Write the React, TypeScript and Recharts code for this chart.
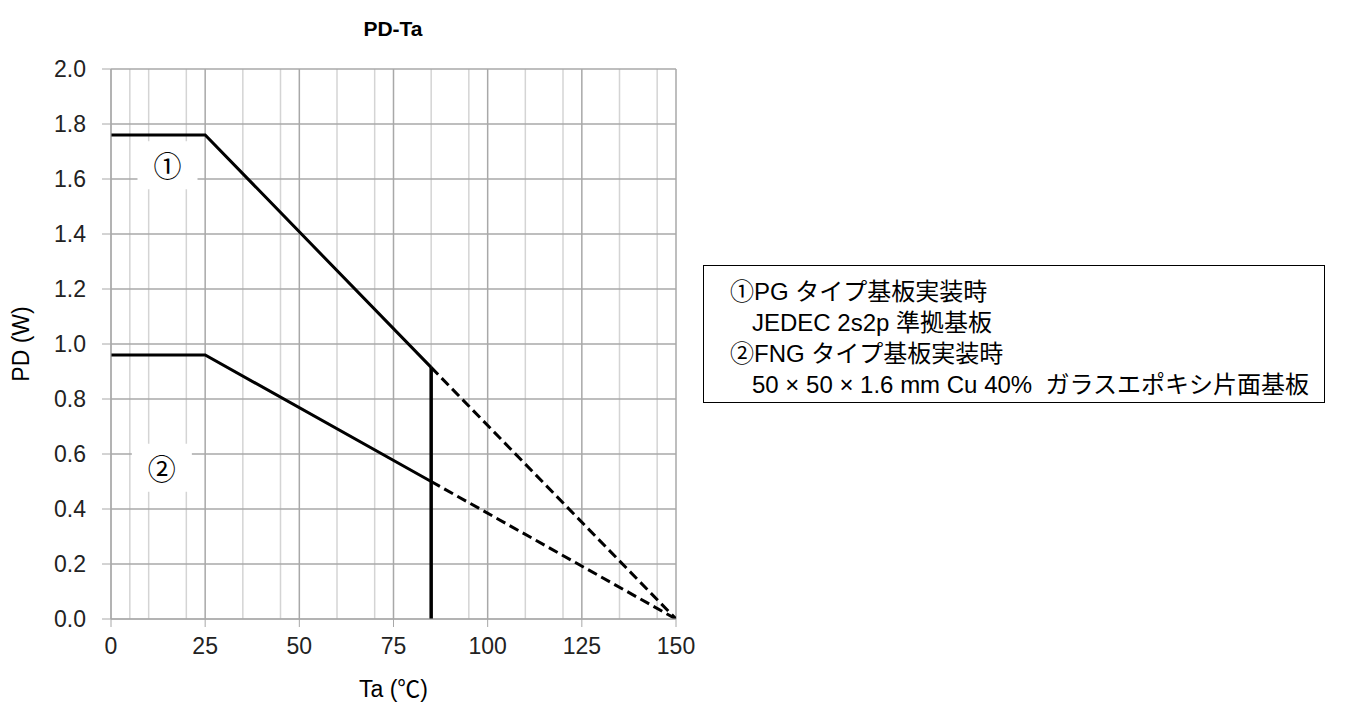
import React from 'react';
import { LineChart, Line, XAxis, YAxis, CartesianGrid, ReferenceDot } from 'recharts';

// PD-Ta derating curves
const xTicks = [0, 25, 50, 75, 100, 125, 150];
const xMinor = [5, 10, 15, 20, 30, 35, 40, 45, 55, 60, 65, 70, 80, 85, 90, 95, 105, 110, 115, 120, 130, 135, 140, 145];
const yTicks = [0, 0.2, 0.4, 0.6, 0.8, 1.0, 1.2, 1.4, 1.6, 1.8, 2.0];

const pgSolid = [
  { ta: 0, pd: 1.76 },
  { ta: 25, pd: 1.76 },
  { ta: 85, pd: 0.915 },
];
const pgDashed = [
  { ta: 85, pd: 0.915 },
  { ta: 150, pd: 0 },
];
const fngSolid = [
  { ta: 0, pd: 0.96 },
  { ta: 25, pd: 0.96 },
  { ta: 85, pd: 0.5 },
];
const fngDashed = [
  { ta: 85, pd: 0.5 },
  { ta: 150, pd: 0 },
];
const limitLine = [
  { ta: 85, pd: 0 },
  { ta: 85, pd: 0.915 },
];

const curveMarks = [
  { ta: 15, pd: 1.65, text: '①' },
  { ta: 13.5, pd: 0.55, text: '②' },
];

const legendLines = [
  { text: '①PG タイプ基板実装時', indent: false },
  { text: 'JEDEC 2s2p 準拠基板', indent: true },
  { text: '②FNG タイプ基板実装時', indent: false },
  { text: '50 × 50 × 1.6 mm Cu 40%\u00a0\u00a0ガラスエポキシ片面基板', indent: true },
];

const FONT = '"Liberation Sans", Arial, "Noto Sans CJK JP", sans-serif';

const MarkShape = (props: any) => {
  const { cx, cy, text } = props;
  return (
    <g>
      <rect x={cx - 30} y={cy - 24} width={60} height={48} fill="#fff" />
      <text x={cx} y={cy} textAnchor="middle" dominantBaseline="central" fontSize={28} fill="#000" fontFamily='"Noto Sans CJK JP", sans-serif'>
        {text}
      </text>
    </g>
  );
};

export default function App() {
  return (
    <div style={{ position: 'relative', width: 1331, height: 694, fontFamily: FONT }}>
      <LineChart
        width={700}
        height={694}
        margin={{ top: 61, right: 32, left: 43, bottom: 33 }}
        style={{ position: 'absolute', left: 0, top: 0 }}
      >
        <CartesianGrid horizontal={false} verticalValues={xMinor} stroke="#d4d4d4" strokeWidth={1.5} />
        <CartesianGrid verticalValues={xTicks} horizontalValues={yTicks} stroke="#a8a8a8" strokeWidth={1.5} />
        <XAxis
          type="number"
          dataKey="ta"
          domain={[0, 150]}
          ticks={xTicks}
          allowDataOverflow
          stroke="#a8a8a8"
          tickSize={8}
          tickMargin={11}
          height={50}
          tick={{ fill: '#222', fontSize: 23, fontFamily: FONT }}
          label={{ value: 'Ta (℃)', position: 'insideBottom', offset: -28, fill: '#000', fontSize: 23, fontFamily: FONT }}
        />
        <YAxis
          type="number"
          dataKey="pd"
          domain={[0, 2]}
          ticks={yTicks}
          allowDataOverflow
          stroke="#a8a8a8"
          tickSize={9}
          tickMargin={16}
          width={60}
          tickFormatter={(v: number) => v.toFixed(1)}
          tick={{ fill: '#222', fontSize: 23, fontFamily: FONT }}
          label={{ value: 'PD (W)', angle: -90, position: 'insideLeft', offset: -30, fill: '#000', fontSize: 23, fontFamily: FONT, style: { textAnchor: 'middle' } }}
        />
        {curveMarks.map((m) => (
          <ReferenceDot key={m.text} x={m.ta} y={m.pd} r={0} shape={(p: any) => <MarkShape {...p} text={m.text} />} />
        ))}
        <Line data={pgSolid} dataKey="pd" stroke="#000" strokeWidth={3} dot={false} isAnimationActive={false} />
        <Line data={pgDashed} dataKey="pd" stroke="#000" strokeWidth={3} strokeDasharray="10 5" dot={false} isAnimationActive={false} />
        <Line data={fngSolid} dataKey="pd" stroke="#000" strokeWidth={3} dot={false} isAnimationActive={false} />
        <Line data={fngDashed} dataKey="pd" stroke="#000" strokeWidth={3} strokeDasharray="10 5" dot={false} isAnimationActive={false} />
        <Line data={limitLine} dataKey="pd" stroke="#000" strokeWidth={3.5} dot={false} isAnimationActive={false} />
        <text x={385} y={20} textAnchor="middle" dominantBaseline="central" fontSize={21} fontWeight="bold" fontFamily={FONT} fill="#000">
          PD-Ta
        </text>
      </LineChart>
      <div
        style={{
          position: 'absolute',
          left: 695,
          top: 257,
          width: 622,
          height: 138,
          border: '1.5px solid #000',
          boxSizing: 'border-box',
          padding: '10px 0 0 26px',
          fontSize: 24,
          lineHeight: '31px',
          color: '#000',
        }}
      >
        {legendLines.map((l, i) => (
          <div key={i} style={{ paddingLeft: l.indent ? 22 : 0, whiteSpace: 'nowrap' }}>
            {l.text}
          </div>
        ))}
      </div>
    </div>
  );
}
